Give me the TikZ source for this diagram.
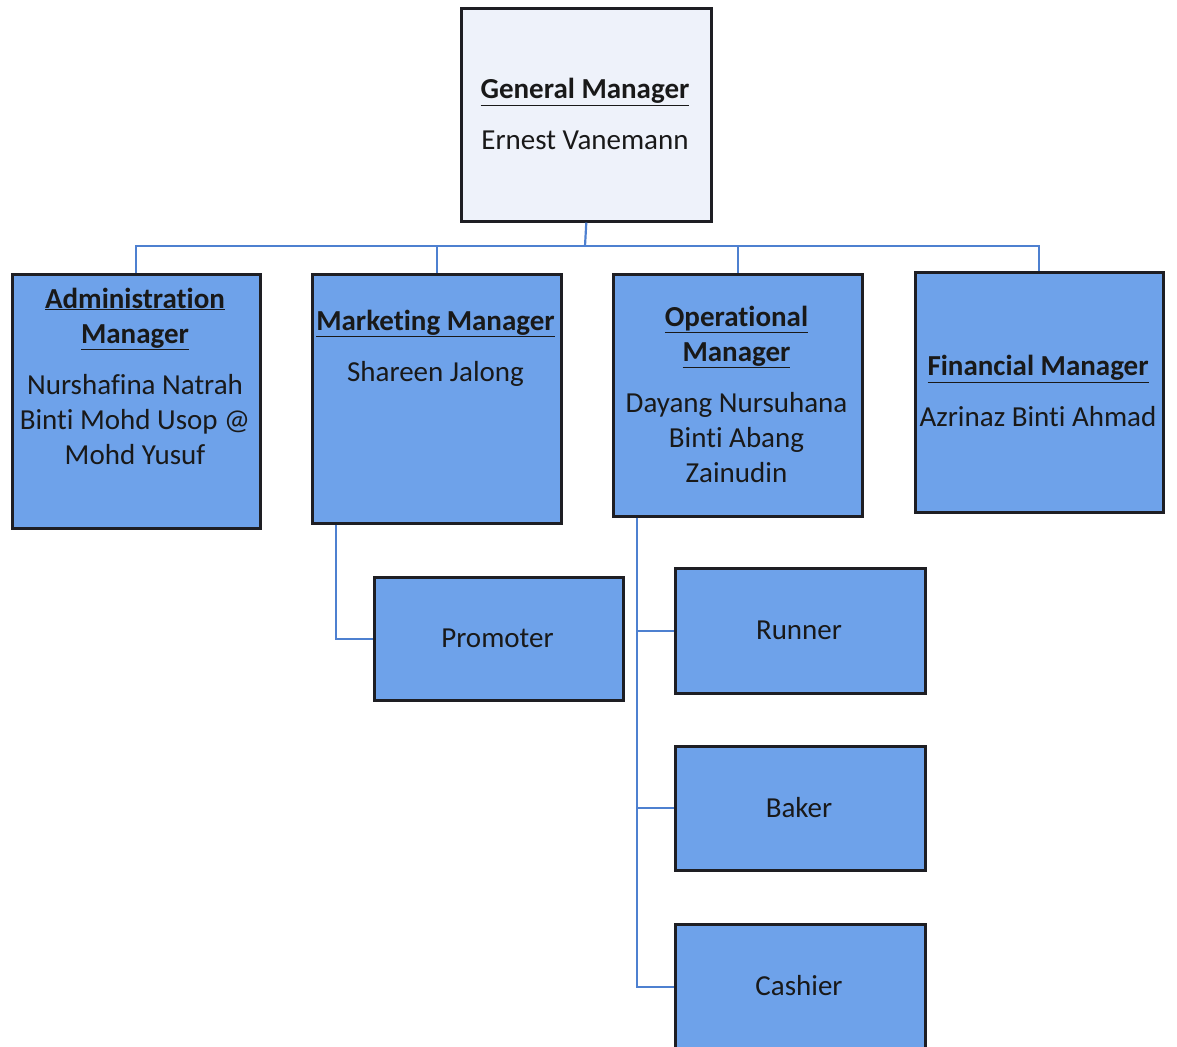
\documentclass[tikz,border=0pt]{standalone}
\usepackage{fontspec}
\setmainfont{Carlito}[Ligatures=NoCommon]
\definecolor{boxblue}{RGB}{110,162,234}
\definecolor{gmfill}{RGB}{238,242,250}
\definecolor{linkblue}{RGB}{78,128,208}
\definecolor{edge}{RGB}{30,30,35}
\newcommand{\ttl}[1]{\underline{\textbf{#1}}}
\begin{document}
\begin{tikzpicture}[x=1pt,y=-1pt,
  box/.style={draw=edge, line width=2.6pt, fill=boxblue, inner sep=0pt, anchor=north west},
  txt/.style={align=center, font=\fontsize{29}{35}\selectfont, text=black!90, inner sep=0pt},
  link/.style={draw=linkblue, line width=2.2pt}]
\useasboundingbox (0,0) rectangle (1177,1046);
\clip (0,0) rectangle (1177,1046);
% boxes
\node[box, fill=gmfill, minimum width=250pt, minimum height=213pt] (gm) at (460,7) {};
\node[box, minimum width=248pt, minimum height=254pt] (adm) at (11,273) {};
\node[box, minimum width=249pt, minimum height=249pt] (mkt) at (311,273) {};
\node[box, minimum width=249pt, minimum height=242pt] (ops) at (612,273) {};
\node[box, minimum width=248pt, minimum height=240pt] (fin) at (914,271) {};
\node[box, minimum width=249pt, minimum height=123pt] (prom) at (373,576) {};
\node[box, minimum width=250pt, minimum height=125pt] (run) at (674,567) {};
\node[box, minimum width=250pt, minimum height=124pt] (bak) at (674,745) {};
\node[box, minimum width=250pt, minimum height=126pt] (cash) at (674,923) {};
% texts
\node[txt] (tgm) at (585,114) {\ttl{General Manager}\\[16pt]Ernest Vanemann};
\node[txt] (tadm) at (135,376) {\ttl{Administration}\\\ttl{Manager}\\[16pt]Nurshafina Natrah\\Binti Mohd Usop @\\Mohd Yusuf};
\node[txt] (tmkt) at (435.5,348) {\ttl{Marketing Manager}\\[16pt]Shareen Jalong};
\node[txt] (tops) at (736.5,394) {\ttl{Operational}\\\ttl{Manager}\\[16pt]Dayang Nursuhana\\Binti Abang\\Zainudin};
\node[txt] (tfin) at (1038,391) {\ttl{Financial Manager}\\[16pt]Azrinaz Binti Ahmad};
\node[txt] (tprom) at (497.5,638) {Promoter};
\node[txt] (trun) at (799,630) {Runner};
\node[txt] (tbak) at (799,808) {Baker};
\node[txt] (tcash) at (799,986) {Cashier};
% connectors
\coordinate (bus) at (585,246);
\path[link] (gm.south) -- (bus);
\path[link] (bus) -| (adm.north);
\path[link] (bus) -| (mkt.north);
\path[link] (bus) -| (ops.north);
\path[link] (bus) -| (fin.north);
\coordinate (mdrop) at ([xshift=25pt]mkt.south west);
\coordinate (odrop) at ([xshift=25pt]ops.south west);
\path[link] (mdrop) |- (prom.west);
\path[link] (odrop) |- (run.west);
\path[link] (odrop) |- (bak.west);
\path[link] (odrop) |- (cash.west);
\end{tikzpicture}
\end{document}
